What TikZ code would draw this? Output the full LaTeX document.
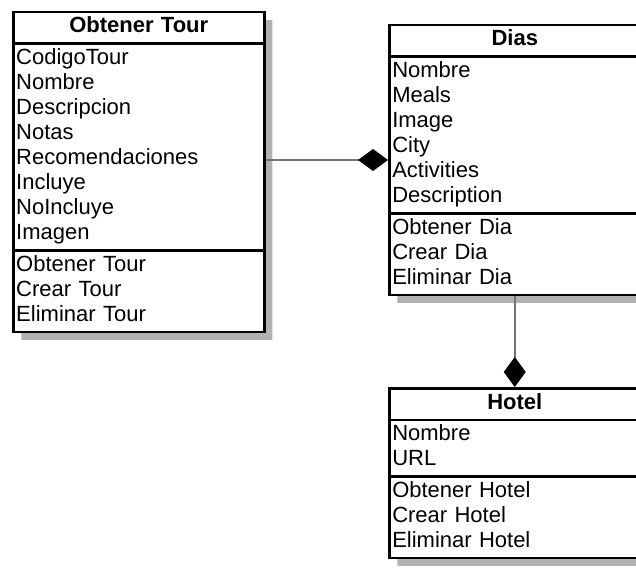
\documentclass[tikz,border=0pt]{standalone}
\usepackage{fontspec}
\setmainfont{Liberation Sans}
\usetikzlibrary{shapes.multipart,shadows,arrows.meta}

\tikzset{
  clase/.style={rectangle split, rectangle split parts=3, draw, line width=2.5pt,
    fill=white, text width=245pt, inner xsep=3pt, inner ysep=2pt, align=left,
    font=\fontsize{22}{25}\selectfont,
    drop shadow={shadow xshift=8pt, shadow yshift=-8pt, fill=black!30, opacity=1}},
  compuesto/.style={draw=black!55, line width=2pt,
    -{Diamond[length=30pt,width=22pt,black]}}
}

\begin{document}
\begin{tikzpicture}[x=1pt,y=-1pt]
   \useasboundingbox (0,0) rectangle (636,567);

   \node[clase, anchor=north west] (tour) at (12,11)
      {\strut\hfill\textbf{Obtener Tour}\hfill\null
      \nodepart{second}\strut CodigoTour\\ Nombre\\ Descripcion\\ Notas\\
      Recomendaciones\\ Incluye\\ NoIncluye\\ Imagen\strut
      \nodepart{third}\strut Obtener Tour\\ Crear Tour\\ Eliminar Tour\strut};

   \node[clase, anchor=north west] (dias) at (388,24)
      {\strut\hfill\textbf{Dias}\hfill\null
      \nodepart{second}\strut Nombre\\ Meals\\ Image\\ City\\ Activities\\
      Description\strut
      \nodepart{third}\strut Obtener Dia\\ Crear Dia\\ Eliminar Dia\strut};

   \node[clase, anchor=north west] (hotel) at (388,387)
      {\strut\hfill\textbf{Hotel}\hfill\null
      \nodepart{second}\strut Nombre\\ URL\strut
      \nodepart{third}\strut Obtener Hotel\\ Crear Hotel\\ Eliminar Hotel\strut};

   % composiciones
   \draw[compuesto] (tour.east |- dias.west) -- (dias.west);
   \draw[compuesto] (dias.south) -- (hotel.north);
\end{tikzpicture}
\end{document}
